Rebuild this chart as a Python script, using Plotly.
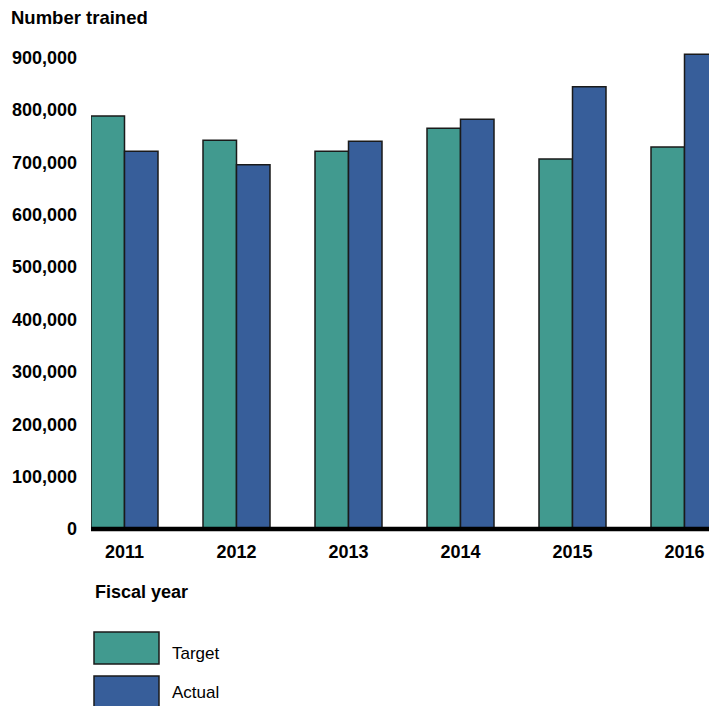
import plotly.graph_objects as go

years = ["2011", "2012", "2013", "2014", "2015", "2016"]
target = [788000, 742000, 721000, 765000, 706000, 729000]
actual = [721000, 695000, 740000, 782000, 844000, 906000]
series_names = ["Target", "Actual"]
colors = ["#419A8F", "#375E9A"]
y_ticks = list(range(0, 1000000, 100000))

FONT = "Liberation Sans, Arial, sans-serif"
W, H = 709, 706
L, R, T, B = 91, 0, 30, 177
px_per_unit = 52.4 / 100000
plot_h = H - T - B
y_max = plot_h / px_per_unit
cat_px = 112.0
plot_w = W - L - R
x0 = -33.5 / cat_px
x1 = x0 + plot_w / cat_px

xs = list(range(len(years)))
fig = go.Figure()
for name, vals, col in zip(series_names, [target, actual], colors):
    fig.add_trace(go.Bar(
        x=xs, y=vals, name=name, marker=dict(color=col, line=dict(color="#1a1a1a", width=1.5)),
        showlegend=False,
    ))

fig.update_layout(
    width=W, height=H,
    margin=dict(l=L, r=R, t=T, b=B),
    paper_bgcolor="white", plot_bgcolor="white",
    barmode="group", bargap=1 - 67 / cat_px, bargroupgap=0,
    font=dict(family=FONT, color="black"),
    xaxis=dict(
        range=[x0, x1], tickmode="array", tickvals=xs, ticktext=years,
        showgrid=False, zeroline=False, showline=False,
        tickfont=dict(size=18, family=FONT, weight="bold"),
        ticks="", ticklabelstandoff=10,
    ),
    yaxis=dict(
        range=[0, y_max], tickmode="array", tickvals=y_ticks,
        tickformat=",d", showgrid=False, zeroline=False, showline=False,
        tickfont=dict(size=18, family=FONT, weight="bold"),
        ticks="", ticklabelstandoff=13,
    ),
)

# baseline
fig.add_shape(type="line", xref="paper", yref="paper", x0=0, x1=1, y0=0, y1=0,
              line=dict(color="black", width=4.5), layer="above")

# titles
fig.add_annotation(text="<b>Number trained</b>", xref="paper", yref="paper",
                   x=-(L - 9) / plot_w, y=1 + (T - 18) / plot_h, xanchor="left", yanchor="middle",
                   showarrow=False, font=dict(size=18.5, family=FONT))
fig.add_annotation(text="<b>Fiscal year</b>", xref="paper", yref="paper",
                   x=(93 - L) / plot_w, y=-(592 - (H - B)) / plot_h, xanchor="left", yanchor="middle",
                   showarrow=False, font=dict(size=18, family=FONT))

# legend drawn manually
leg_rows = [(632, 664, 653), (676, 708, 692)]
for (ytop, ybot, ytext), name, col in zip(leg_rows, series_names, colors):
    fig.add_shape(type="rect", xref="paper", yref="paper",
                  x0=(94 - L) / plot_w, x1=(159 - L) / plot_w,
                  y0=-(ybot - (H - B)) / plot_h, y1=-(ytop - (H - B)) / plot_h,
                  fillcolor=col, line=dict(color="#1a1a1a", width=1.5))
    fig.add_annotation(text=name, xref="paper", yref="paper",
                       x=(170 - L) / plot_w, y=-(ytext - (H - B)) / plot_h,
                       xanchor="left", yanchor="middle", showarrow=False,
                       font=dict(size=17, family=FONT))

fig.write_html("out.html")
